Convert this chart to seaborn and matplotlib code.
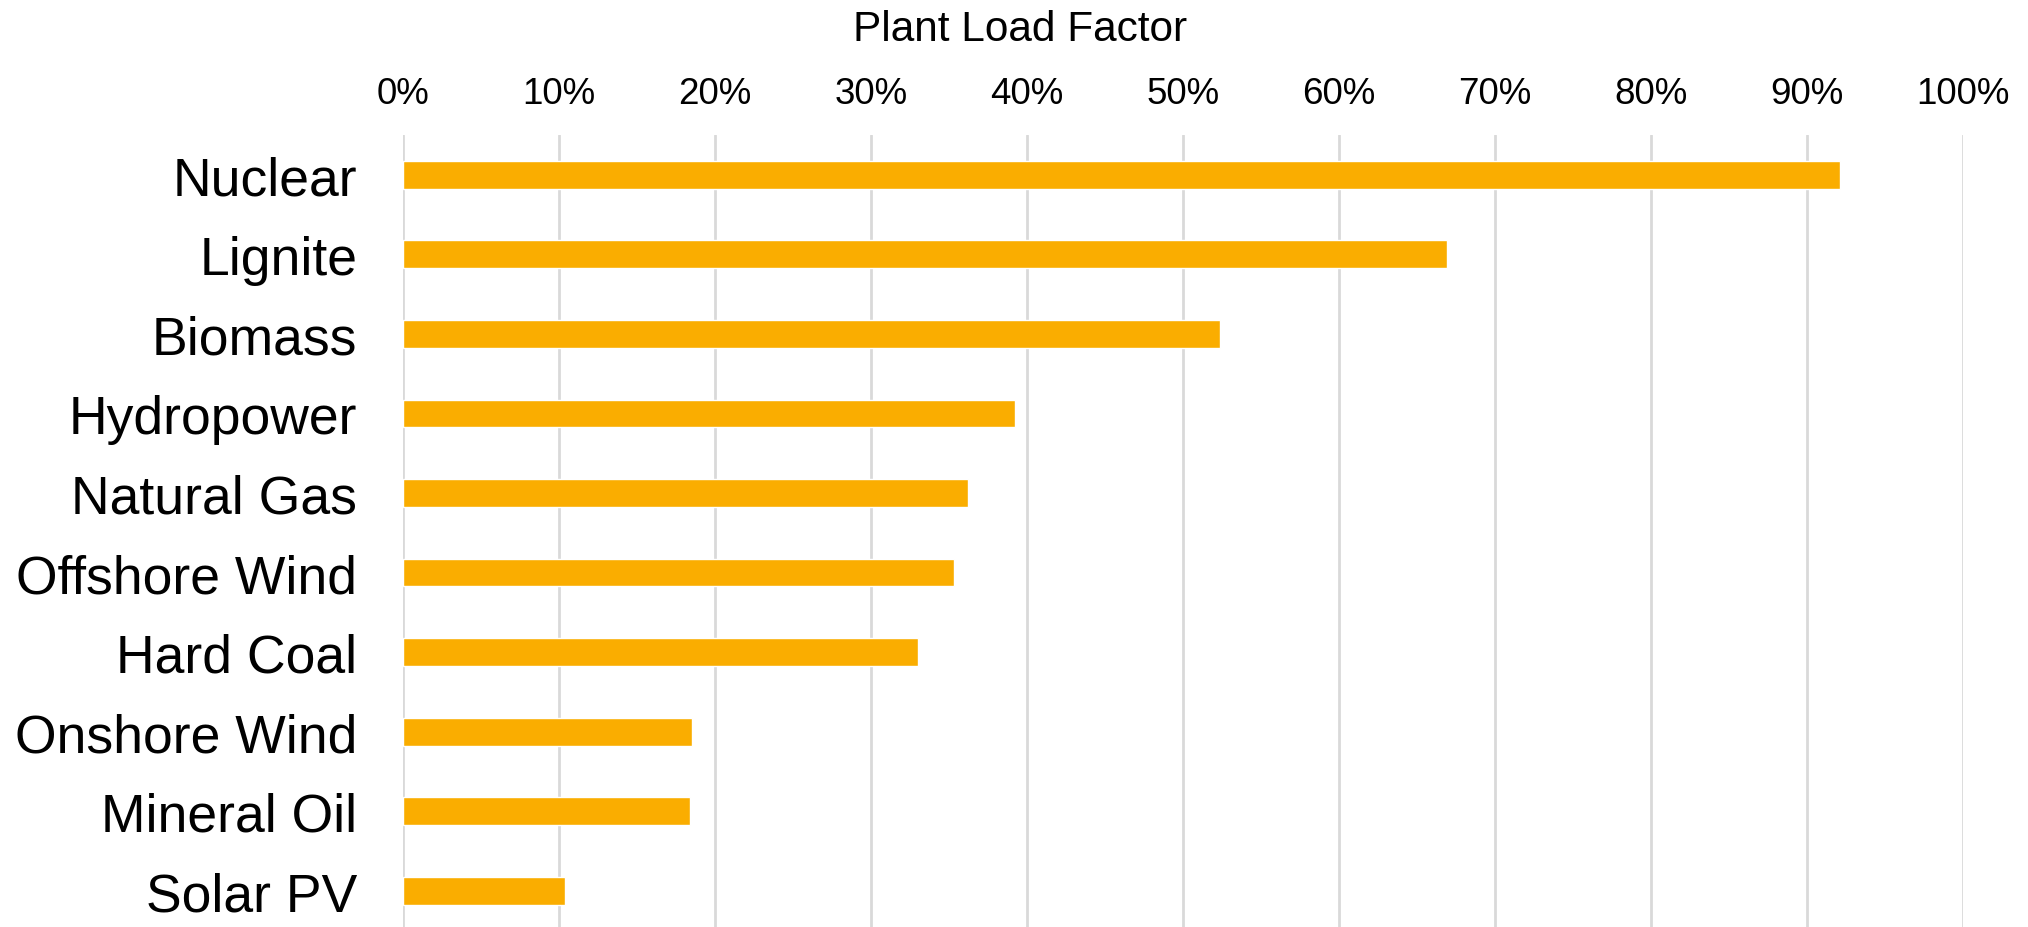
import matplotlib
matplotlib.use("Agg")
import matplotlib.pyplot as plt
import seaborn as sns
import pandas as pd
from matplotlib.ticker import FuncFormatter, MultipleLocator

categories = ["Nuclear", "Lignite", "Biomass", "Hydropower", "Natural Gas",
              "Offshore Wind", "Hard Coal", "Onshore Wind", "Mineral Oil", "Solar PV"]
load_factor = [0.921, 0.669, 0.524, 0.392, 0.362, 0.353, 0.330, 0.185, 0.184, 0.104]
x_label = "Plant Load Factor"

df = pd.DataFrame({"Technology": categories, "PLF": load_factor})

sns.set_theme(style="white")
plt.rcParams["font.family"] = ["Liberation Sans", "DejaVu Sans"]

W, H = 2028, 928
fig = plt.figure(figsize=(W / 100, H / 100), dpi=100)
ax = fig.add_axes([403 / W, 0, 1560 / W, (H - 136) / H])

sns.barplot(data=df, y="Technology", x="PLF", orient="h", color="#FAAD00",
            saturation=1, width=0.35, ax=ax, zorder=3)

ax.set_xlim(0, 1.0)
ax.set_ylim(9.5 - 3.5 / 79.5, -0.5)
ax.xaxis.set_major_locator(MultipleLocator(0.1))
ax.xaxis.set_major_formatter(FuncFormatter(lambda v, p: f"{v*100:.0f}%"))
ax.xaxis.tick_top()
ax.grid(axis="x", color="#d9d9d9", linewidth=2, zorder=0)
ax.grid(axis="y", visible=False)
for s in ax.spines.values():
    s.set_visible(False)
ax.tick_params(axis="x", length=0, pad=17, labelsize=26.5, colors="black")
ax.tick_params(axis="y", length=0, pad=33, labelsize=38.5, colors="black")
ax.set_xlabel("")
ax.set_ylabel("")

fig.text(1020 / W, 1 - 41 / H, x_label, ha="center", va="baseline",
         fontsize=30.5, color="black")

fig.savefig("out.png", dpi=100, facecolor="white")
